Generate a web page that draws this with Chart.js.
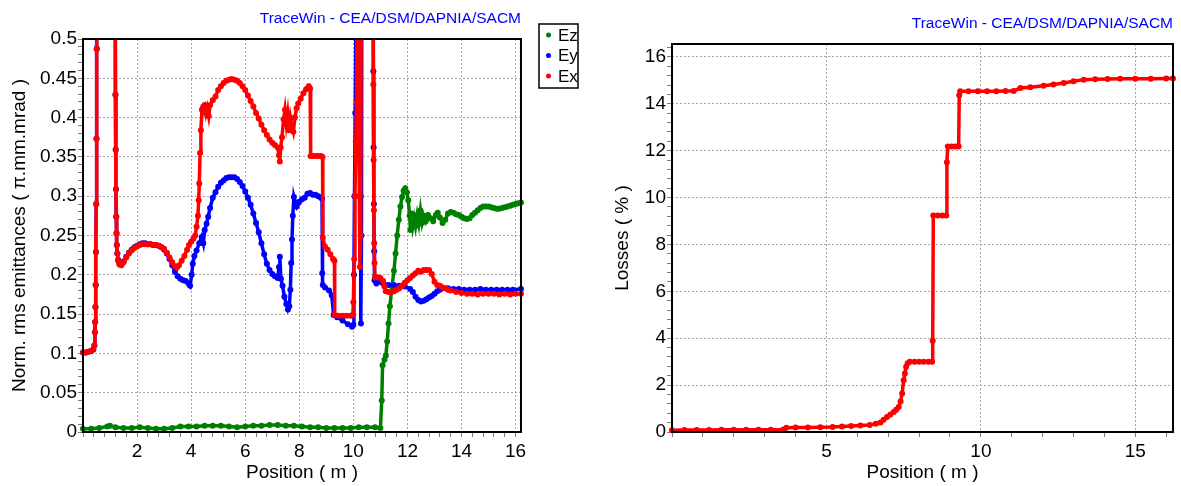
<!DOCTYPE html>
<html>
<head>
<meta charset="utf-8">
<title>Emittances and losses</title>
<script src="https://cdn.jsdelivr.net/npm/chart.js@4/dist/chart.umd.min.js"></script>
<style>
  html, body { margin: 0; padding: 0; background: #fff; }
  #wrap { position: relative; width: 1181px; height: 486px; overflow: hidden; }
  canvas { position: absolute; top: 0; }
</style>
</head>
<body>
<div id="wrap">
  <canvas id="emit" width="590" height="486" style="left:0"></canvas>
  <canvas id="loss" width="591" height="486" style="left:590px"></canvas>
</div>
<script>
// Normalised rms emittances along the line: [position (m), emittance (pi.mm.mrad)]
const ezPoints = [
  [0,0.004],[0.3,0.004],[0.6,0.005],[0.9,0.007],[1.0,0.008],[1.2,0.006],[1.5,0.005],[1.8,0.005],
  [2.1,0.006],[2.4,0.005],[2.7,0.004],[3.0,0.004],[3.3,0.005],[3.6,0.007],[3.9,0.007],[4.2,0.007],
  [4.5,0.008],[4.8,0.008],[5.1,0.008],[5.4,0.007],[5.7,0.006],[6.0,0.007],[6.3,0.008],[6.6,0.008],
  [6.9,0.009],[7.2,0.009],[7.5,0.008],[7.8,0.008],[8.1,0.007],[8.4,0.006],[8.7,0.006],[9.0,0.005],
  [9.3,0.005],[9.6,0.005],[9.9,0.005],[10.2,0.006],[10.5,0.006],[10.8,0.006],[11.0,0.005],
  [11.05,0.040],[11.08,0.085],[11.15,0.092],[11.2,0.097],[11.25,0.115],[11.3,0.138],[11.35,0.160],
  [11.43,0.185],[11.5,0.205],[11.56,0.227],[11.62,0.250],[11.68,0.270],[11.74,0.287],[11.8,0.299],
  [11.86,0.307],[11.92,0.310],[11.98,0.305],[12.03,0.295],[12.08,0.275],[12.11,0.257],[12.15,0.278],
  [12.2,0.262],[12.25,0.272],[12.3,0.262],[12.36,0.276],[12.42,0.265],[12.48,0.282],[12.54,0.266],
  [12.6,0.275],[12.68,0.268],[12.76,0.276],[12.85,0.272],[12.95,0.268],[13.05,0.276],[13.12,0.279],
  [13.2,0.273],[13.3,0.266],[13.4,0.270],[13.5,0.278],[13.6,0.280],[13.7,0.279],[13.8,0.277],
  [13.9,0.276],[14.0,0.274],[14.1,0.272],[14.2,0.271],[14.3,0.272],[14.4,0.276],[14.5,0.279],
  [14.6,0.282],[14.7,0.285],[14.8,0.287],[14.9,0.287],[15.0,0.287],[15.1,0.286],[15.2,0.285],
  [15.3,0.284],[15.4,0.284],[15.5,0.285],[15.6,0.286],[15.7,0.287],[15.8,0.288],[15.9,0.289],
  [16.0,0.290],[16.1,0.291],[16.2,0.292]
];

const eyPoints = [
  [0,0.101],[0.1,0.101],[0.2,0.102],[0.3,0.103],[0.38,0.105],[0.42,0.110],[0.44,0.127],[0.45,0.140],
  [0.46,0.159],[0.47,0.187],[0.48,0.229],[0.49,0.290],[0.5,0.373],[0.51,0.488],[0.53,0.8],[1.18,0.8],
  [1.2,0.429],[1.21,0.359],[1.22,0.309],[1.23,0.274],[1.24,0.253],[1.25,0.238],[1.27,0.227],[1.3,0.219],
  [1.35,0.214],[1.42,0.213],[1.5,0.217],[1.6,0.223],[1.7,0.228],[1.8,0.232],[1.9,0.235],[2.0,0.237],
  [2.1,0.239],[2.2,0.240],[2.3,0.240],[2.4,0.239],[2.5,0.239],[2.6,0.238],[2.7,0.238],[2.8,0.237],
  [2.9,0.235],[3.0,0.232],[3.1,0.227],[3.2,0.220],[3.3,0.212],[3.4,0.204],[3.5,0.198],[3.6,0.195],
  [3.7,0.193],[3.8,0.192],[3.9,0.189],[3.96,0.186],[4.02,0.200],[4.06,0.214],[4.12,0.224],[4.2,0.231],
  [4.3,0.240],[4.39,0.248],[4.45,0.240],[4.5,0.257],[4.57,0.265],[4.63,0.274],[4.7,0.285],[4.8,0.298],
  [4.9,0.305],[5.0,0.312],[5.1,0.317],[5.2,0.320],[5.3,0.323],[5.4,0.324],[5.5,0.324],[5.6,0.324],
  [5.7,0.322],[5.8,0.318],[5.9,0.313],[6.0,0.306],[6.1,0.298],[6.2,0.289],[6.3,0.278],[6.4,0.266],
  [6.5,0.254],[6.6,0.240],[6.7,0.226],[6.8,0.214],[6.9,0.206],[7.0,0.201],[7.1,0.198],[7.2,0.196],
  [7.25,0.210],[7.28,0.223],[7.32,0.195],[7.38,0.186],[7.45,0.172],[7.52,0.163],[7.58,0.156],
  [7.63,0.160],[7.67,0.181],[7.7,0.215],[7.73,0.245],[7.76,0.275],[7.8,0.299],[7.85,0.292],[7.9,0.287],
  [7.95,0.291],[8.0,0.293],[8.1,0.296],[8.2,0.298],[8.3,0.303],[8.4,0.304],[8.5,0.302],[8.6,0.302],
  [8.7,0.300],[8.8,0.298],[8.84,0.297],[8.85,0.202],[8.87,0.187],[8.95,0.184],[9.1,0.180],[9.2,0.174],
  [9.27,0.149],[9.4,0.146],[9.6,0.142],[9.8,0.137],[9.95,0.134],[10.0,0.136],[10.02,0.200],[10.04,0.300],
  [10.07,0.406],[10.15,0.8],[10.25,0.8],[10.27,0.300],[10.28,0.138],[10.3,0.250],[10.32,0.8],[10.72,0.8],
  [10.74,0.459],[10.75,0.362],[10.76,0.290],[10.77,0.230],[10.78,0.193],[10.85,0.189],[10.95,0.191],
  [11.1,0.189],[11.3,0.187],[11.5,0.187],[11.7,0.186],[11.9,0.185],[12.1,0.182],[12.2,0.178],[12.3,0.172],
  [12.4,0.168],[12.5,0.166],[12.6,0.167],[12.7,0.169],[12.8,0.171],[12.9,0.173],[13.0,0.176],[13.1,0.179],
  [13.2,0.181],[13.3,0.183],[13.5,0.183],[13.7,0.182],[13.9,0.182],[14.1,0.181],[14.3,0.181],[14.5,0.181],
  [14.7,0.182],[14.9,0.181],[15.1,0.181],[15.3,0.181],[15.5,0.181],[15.7,0.181],[15.9,0.181],[16.2,0.182]
];

const exPoints = [
  [0,0.101],[0.1,0.101],[0.2,0.102],[0.3,0.103],[0.38,0.105],[0.42,0.110],[0.44,0.127],[0.45,0.140],
  [0.46,0.159],[0.47,0.187],[0.48,0.229],[0.49,0.290],[0.5,0.373],[0.51,0.487],[0.53,0.8],[1.18,0.8],
  [1.2,0.429],[1.21,0.359],[1.22,0.309],[1.23,0.274],[1.24,0.253],[1.25,0.238],[1.27,0.227],[1.3,0.218],
  [1.35,0.213],[1.42,0.212],[1.5,0.216],[1.6,0.222],[1.7,0.227],[1.8,0.231],[1.9,0.234],[2.0,0.236],
  [2.1,0.238],[2.2,0.239],[2.3,0.239],[2.4,0.239],[2.5,0.239],[2.6,0.238],[2.7,0.238],[2.8,0.237],
  [2.9,0.235],[3.0,0.233],[3.1,0.228],[3.2,0.222],[3.3,0.216],[3.4,0.211],[3.47,0.209],[3.55,0.212],
  [3.65,0.218],[3.75,0.224],[3.85,0.232],[3.92,0.238],[4.0,0.242],[4.08,0.246],[4.15,0.250],[4.2,0.261],
  [4.25,0.275],[4.28,0.295],[4.3,0.316],[4.33,0.355],[4.36,0.384],[4.4,0.410],[4.45,0.414],[4.5,0.416],
  [4.55,0.405],[4.6,0.412],[4.65,0.402],[4.7,0.416],[4.8,0.422],[4.9,0.427],[5.0,0.435],[5.1,0.440],
  [5.2,0.444],[5.3,0.447],[5.4,0.448],[5.5,0.449],[5.6,0.448],[5.7,0.447],[5.8,0.444],[5.9,0.440],
  [6.0,0.435],[6.1,0.428],[6.2,0.421],[6.3,0.414],[6.4,0.406],[6.5,0.399],[6.6,0.391],[6.7,0.384],
  [6.8,0.378],[6.9,0.372],[7.0,0.368],[7.1,0.365],[7.2,0.362],[7.25,0.352],[7.28,0.344],[7.31,0.362],
  [7.36,0.375],[7.42,0.398],[7.47,0.410],[7.52,0.392],[7.57,0.405],[7.62,0.384],[7.67,0.400],[7.72,0.390],
  [7.78,0.382],[7.84,0.400],[7.9,0.412],[7.96,0.418],[8.05,0.424],[8.15,0.431],[8.25,0.436],[8.35,0.440],
  [8.4,0.437],[8.42,0.351],[8.5,0.351],[8.6,0.351],[8.7,0.351],[8.8,0.351],[8.86,0.350],[8.87,0.247],
  [8.95,0.236],[9.05,0.232],[9.15,0.226],[9.25,0.220],[9.3,0.218],[9.31,0.149],[9.45,0.148],[9.6,0.148],
  [9.75,0.148],[9.9,0.148],[9.98,0.149],[10.0,0.165],[10.03,0.220],[10.06,0.300],[10.09,0.370],
  [10.12,0.420],[10.15,0.8],[10.18,0.8],[10.2,0.400],[10.22,0.300],[10.24,0.210],[10.27,0.250],[10.3,0.8],
  [10.72,0.8],[10.74,0.442],[10.75,0.346],[10.76,0.282],[10.77,0.240],[10.78,0.215],[10.8,0.197],
  [10.9,0.197],[11.0,0.196],[11.1,0.192],[11.15,0.185],[11.2,0.179],[11.3,0.178],[11.4,0.178],[11.5,0.179],
  [11.6,0.181],[11.7,0.183],[11.8,0.186],[11.9,0.190],[12.0,0.193],[12.1,0.196],[12.2,0.199],[12.3,0.202],
  [12.4,0.205],[12.5,0.204],[12.6,0.206],[12.7,0.206],[12.8,0.206],[12.9,0.201],[13.0,0.191],[13.1,0.187],
  [13.2,0.186],[13.3,0.184],[13.4,0.183],[13.5,0.181],[13.6,0.180],[13.8,0.178],[14.0,0.177],[14.2,0.176],
  [14.4,0.176],[14.6,0.175],[14.8,0.176],[15.0,0.176],[15.2,0.176],[15.4,0.175],[15.6,0.176],[15.8,0.175],
  [16.0,0.176],[16.2,0.176]
];

// Cumulated beam losses: [position (m), losses (%)]
const lossPoints = [
  [0,0.07],[0.4,0.08],[0.8,0.09],[1.2,0.09],[1.6,0.10],[2.0,0.10],[2.4,0.10],[2.8,0.10],[3.2,0.10],
  [3.6,0.11],[3.7,0.18],[4.0,0.19],[4.4,0.19],[4.8,0.20],[5.2,0.21],[5.5,0.23],[5.8,0.26],[6.1,0.28],
  [6.4,0.30],[6.6,0.35],[6.75,0.40],[6.85,0.52],[6.96,0.64],[7.07,0.75],[7.18,0.85],[7.26,0.95],
  [7.34,1.07],[7.4,1.30],[7.45,1.64],[7.5,2.21],[7.54,2.50],[7.58,2.78],[7.63,2.93],[7.7,3.00],
  [7.85,3.00],[8.0,3.00],[8.15,3.00],[8.3,3.00],[8.42,3.00],[8.44,3.89],[8.46,9.23],[8.6,9.23],
  [8.75,9.23],[8.88,9.23],[8.9,11.51],[8.93,12.18],[9.05,12.18],[9.17,12.18],[9.28,12.18],[9.3,14.36],
  [9.33,14.53],[9.6,14.53],[9.9,14.53],[10.2,14.53],[10.5,14.53],[10.8,14.54],[11.06,14.55],
  [11.28,14.67],[11.6,14.71],[12.03,14.77],[12.35,14.82],[12.68,14.89],[13.0,14.96],[13.33,15.03],
  [13.7,15.05],[14.1,15.06],[14.51,15.07],[15.0,15.07],[15.5,15.07],[16.0,15.08],[16.22,15.08]
];

const seriesLabels = ['Ez', 'Ey', 'Ex'];
const seriesColors = ['#008000', '#0000ff', '#ff0000'];
const bannerText = 'TraceWin - CEA/DSM/DAPNIA/SACM';

const FONT = "'Liberation Sans', Arial, Helvetica, sans-serif";
const toXY = pts => pts.map(([x, y]) => ({ x, y }));
const near = (v, step) => Math.abs(v / step - Math.round(v / step)) < 1e-6;

// Black box round the plot area
const framePlugin = {
  id: 'frame',
  afterDatasetsDraw(chart) {
    const { ctx, chartArea: a } = chart;
    ctx.save();
    ctx.strokeStyle = '#000';
    ctx.lineWidth = 2;
    ctx.strokeRect(a.left, a.top, a.right - a.left, a.bottom - a.top);
    ctx.restore();
  }
};

// Blue program banner above the plot, right-aligned
const bannerPlugin = {
  id: 'banner',
  afterDraw(chart, args, opts) {
    const { ctx, chartArea: a } = chart;
    ctx.save();
    ctx.font = '15.5px ' + FONT;
    ctx.fillStyle = '#0000ff';
    ctx.textAlign = 'right';
    ctx.textBaseline = 'middle';
    ctx.fillText(opts.text, a.right, a.top - 20.5);
    ctx.restore();
  }
};

// Framed legend to the right of the plot
const boxLegendPlugin = {
  id: 'boxLegend',
  afterDraw(chart) {
    const { ctx, chartArea: a } = chart;
    const left = a.right + 18, top = a.top - 15, w = 39, h = 64, rowH = 20.5;
    ctx.save();
    ctx.fillStyle = '#fff';
    ctx.fillRect(left, top, w, h);
    ctx.strokeStyle = '#000';
    ctx.lineWidth = 1.5;
    ctx.strokeRect(left, top, w, h);
    ctx.font = '17px ' + FONT;
    ctx.textAlign = 'left';
    ctx.textBaseline = 'middle';
    chart.data.datasets.forEach((ds, i) => {
      const y = top + 11 + i * rowH;
      ctx.fillStyle = ds.borderColor;
      ctx.beginPath();
      ctx.arc(left + 9.5, y, 2.5, 0, Math.PI * 2);
      ctx.fill();
      ctx.fillStyle = '#000';
      ctx.fillText(ds.label, left + 19, y + 1);
    });
    ctx.restore();
  }
};

function axis(opts) {
  const { min, max, step, major, fmt, title, titlePad, fitSize, horizontal } = opts;
  return {
    type: 'linear',
    min, max,
    ticks: {
      stepSize: step,
      autoSkip: false,
      includeBounds: false,
      maxRotation: 0,
      minRotation: 0,
      padding: horizontal ? 3 : 1,
      color: '#000',
      font: { family: FONT, size: 19 },
      callback: v => (near(v, major) && (opts.showZero || v !== 0)) ? fmt(v) : ''
    },
    grid: {
      color: c => (c.tick && near(c.tick.value, major)) ? '#a6a6a6' : 'rgba(0,0,0,0)',
      lineWidth: 1,
      tickColor: '#808080',
      tickLength: 5,
      tickWidth: 1
    },
    border: { display: false, dash: [2, 2] },
    title: {
      display: true,
      text: title,
      color: '#000',
      font: { family: FONT, size: 19 },
      padding: titlePad
    },
    afterFit(scale) {
      if (horizontal) scale.height = fitSize; else scale.width = fitSize;
    }
  };
}

const lineStyle = color => ({
  borderColor: color,
  backgroundColor: color,
  borderWidth: 3.5,
  pointRadius: 3,
  pointBorderWidth: 0,
  pointBackgroundColor: color,
  showLine: true,
  tension: 0,
  clip: { left: 3, top: 0, right: 3, bottom: 4 }
});

new Chart(document.getElementById('emit'), {
  type: 'scatter',
  data: {
    datasets: [
      { label: seriesLabels[0], data: toXY(ezPoints), order: 2, ...lineStyle(seriesColors[0]) },
      { label: seriesLabels[1], data: toXY(eyPoints), order: 1, ...lineStyle(seriesColors[1]) },
      { label: seriesLabels[2], data: toXY(exPoints), order: 0, ...lineStyle(seriesColors[2]) }
    ]
  },
  options: {
    responsive: false,
    animation: false,
    devicePixelRatio: 1,
    events: [],
    layout: { padding: { left: 0, right: 69, top: 39, bottom: 0 } },
    plugins: { legend: { display: false }, tooltip: { enabled: false }, banner: { text: bannerText } },
    scales: {
      x: axis({ min: 0, max: 16.2, step: 0.4, major: 2, fmt: v => String(Math.round(v)),
                title: 'Position ( m )', titlePad: { top: 0, bottom: 2 }, fitSize: 54, horizontal: true }),
      y: axis({ min: 0, max: 0.5, step: 0.01, major: 0.05, showZero: true,
                fmt: v => String(Math.round(v * 100) / 100),
                title: 'Norm. rms emittances ( \u03c0.mm.mrad )', titlePad: { top: 8, bottom: 0 }, fitSize: 83 })
    }
  },
  plugins: [framePlugin, bannerPlugin, boxLegendPlugin]
});

new Chart(document.getElementById('loss'), {
  type: 'scatter',
  data: {
    datasets: [
      { label: 'Losses', data: toXY(lossPoints), ...lineStyle('#ff0000') }
    ]
  },
  options: {
    responsive: false,
    animation: false,
    devicePixelRatio: 1,
    events: [],
    layout: { padding: { left: 0, right: 8, top: 44, bottom: 0 } },
    plugins: { legend: { display: false }, tooltip: { enabled: false }, banner: { text: bannerText } },
    scales: {
      x: axis({ min: 0, max: 16.22, step: 1, major: 5, fmt: v => String(Math.round(v)),
                title: 'Position ( m )', titlePad: { top: 0, bottom: 2 }, fitSize: 54, horizontal: true }),
      y: axis({ min: 0, max: 16.55, step: 0.4, major: 2, showZero: true, fmt: v => String(Math.round(v)),
                title: 'Losses ( % )', titlePad: { top: 21, bottom: 0 }, fitSize: 82 })
    }
  },
  plugins: [framePlugin, bannerPlugin]
});
</script>
</body>
</html>
